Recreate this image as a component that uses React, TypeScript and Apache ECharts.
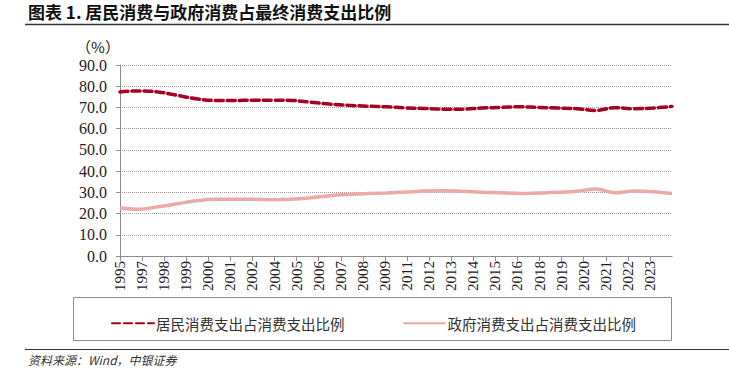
import React, { useEffect, useRef } from "react";
import * as echarts from "echarts";

const years = [1995, 1996, 1997, 1998, 1999, 2000, 2001, 2002, 2003, 2004, 2005, 2006, 2007, 2008, 2009, 2010, 2011, 2012, 2013, 2014, 2015, 2016, 2017, 2018, 2019, 2020, 2021, 2022, 2023, 2024];
const householdShare = [77.3, 77.8, 77.3, 75.7, 74.1, 73.3, 73.3, 73.4, 73.4, 73.3, 72.5, 71.6, 71.0, 70.6, 70.3, 69.8, 69.5, 69.2, 69.2, 69.7, 70.0, 70.3, 70.0, 69.7, 69.4, 68.6, 69.9, 69.4, 69.7, 70.5];
const governmentShare = [22.7, 22.0, 23.2, 24.6, 26.0, 26.7, 26.7, 26.7, 26.5, 26.7, 27.4, 28.4, 29.0, 29.4, 29.7, 30.1, 30.6, 30.8, 30.5, 30.0, 29.8, 29.5, 29.7, 30.0, 30.5, 31.6, 29.8, 30.6, 30.3, 29.5];
const tickLabels = ["1995", "1997", "1998", "1999", "2000", "2001", "2002", "2004", "2005", "2006", "2007", "2008", "2009", "2011", "2012", "2013", "2014", "2015", "2016", "2018", "2019", "2020", "2021", "2022", "2023"];
const labelStep = 1.16; // date-axis label spacing, in years
const seriesNames = ["居民消费支出占消费支出比例", "政府消费支出占消费支出比例"];

const SERIF = "'Liberation Serif', 'Times New Roman', serif";
const CJK = "'Noto Sans CJK SC', sans-serif";

export default function App() {
  const ref = useRef<HTMLDivElement>(null);
  useEffect(() => {
    if (!ref.current) return;
    const chart = echarts.init(ref.current, undefined, { renderer: "svg" });
    const tickValues = tickLabels.map((_, i) => years[0] + i * labelStep);
    chart.setOption({
      animation: false,
      backgroundColor: "#ffffff",
      grid: { left: 120, right: 57, top: 65, bottom: 120, containLabel: false },
      xAxis: {
        type: "value",
        min: years[0],
        max: years[years.length - 1],
        axisLine: { show: true, lineStyle: { color: "#8c8c8c", width: 1 } },
        axisTick: { show: true, length: 5, lineStyle: { color: "#8c8c8c" }, customValues: tickValues },
        axisLabel: {
          customValues: tickValues,
          rotate: 90,
          margin: 5,
          fontFamily: SERIF,
          fontSize: 15,
          color: "#222",
          formatter: (v: number) => {
            const i = Math.round((v - years[0]) / labelStep);
            return tickLabels[i] ?? "";
          },
        },
        splitLine: { show: false },
      },
      yAxis: {
        type: "value",
        min: 0,
        max: 90,
        interval: 10,
        axisLine: { show: true, lineStyle: { color: "#8c8c8c", width: 1 } },
        axisTick: { show: true, length: 4, lineStyle: { color: "#8c8c8c" } },
        axisLabel: {
          fontFamily: SERIF,
          fontSize: 16,
          color: "#222",
          margin: 13,
          formatter: (v: number) => v.toFixed(1),
        },
        splitLine: { show: true, lineStyle: { color: "#9a9a9a", type: [1, 1], width: 1 } },
      },
      legend: {
        show: true,
        left: 106,
        top: 311,
        itemWidth: 42,
        itemHeight: 4,
        itemGap: 58,
        itemStyle: { opacity: 0 },
        textStyle: { fontFamily: CJK, fontSize: 14.5, color: "#333", padding: [0, 0, 0, -3] },
        data: seriesNames,
      },
      series: [
        {
          name: seriesNames[0],
          type: "line",
          data: years.map((y, i) => [y, householdShare[i]]),
          smooth: 0.4,
          symbol: "none",
          lineStyle: { color: "#a50021", width: 3.5, type: [8, 4], cap: "round" },
          itemStyle: { color: "#a50021" },
        },
        {
          name: seriesNames[1],
          type: "line",
          data: years.map((y, i) => [y, governmentShare[i]]),
          smooth: 0.4,
          symbol: "none",
          lineStyle: { color: "#eba9a9", width: 3.5 },
          itemStyle: { color: "#eba9a9" },
        },
      ],
      graphic: [
        {
          type: "text",
          left: 28,
          top: 3,
          style: { text: "图表 1. 居民消费与政府消费占最终消费支出比例", fontFamily: CJK, fontWeight: "bold", fontSize: 17, fill: "#111" },
        },
        { type: "line", shape: { x1: 25, y1: 24.5, x2: 729, y2: 24.5 }, style: { stroke: "#333", lineWidth: 1.5 } },
        {
          type: "text",
          x: 98,
          y: 46,
          style: { text: "（%）", fontFamily: CJK, fontSize: 15, fill: "#222", align: "center", verticalAlign: "middle" },
        },
        { type: "rect", shape: { x: 73.5, y: 297.5, width: 598, height: 43 }, style: { fill: "none", stroke: "#8c8c8c", lineWidth: 1 } },
        { type: "line", shape: { x1: 25, y1: 349.5, x2: 729, y2: 349.5 }, style: { stroke: "#333", lineWidth: 1.2 } },
        {
          type: "text",
          left: 28,
          top: 353,
          style: { text: "资料来源：Wind，中银证券", fontFamily: CJK, fontStyle: "italic", fontSize: 12, fill: "#333" },
        },
      ],
    });
    return () => chart.dispose();
  }, []);
  return <div ref={ref} style={{ position: "absolute", left: 0, top: 0, width: 729, height: 376 }} />;
}
